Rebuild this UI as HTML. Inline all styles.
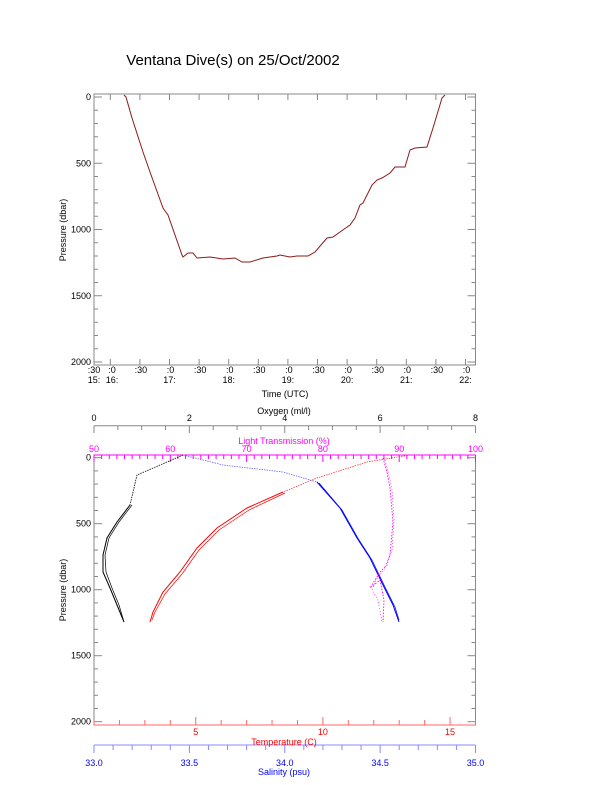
<!DOCTYPE html>
<html><head><meta charset="utf-8"><style>
body{margin:0;background:#fff;}
svg{display:block;font-family:"Liberation Sans",sans-serif;}
</style></head><body>
<svg id="s" width="612" height="785" viewBox="0 0 612 785" xmlns="http://www.w3.org/2000/svg">
<rect width="612" height="785" fill="#fff"/>
<text x="233" y="65" font-size="15" text-anchor="middle">Ventana Dive(s) on 25/Oct/2002</text>
<rect x="94" y="94" width="381.5" height="271" fill="none" stroke="#888" stroke-width="1"/>
<rect x="94" y="455" width="381.5" height="270" fill="none" stroke="#888" stroke-width="1"/>
<g id="g"></g>
<text x="66" y="230" font-size="9" text-anchor="middle" transform="rotate(-90 66 230)">Pressure (dbar)</text>
<text x="285" y="397" font-size="9" text-anchor="middle">Time (UTC)</text>
<text x="66" y="590" font-size="9" text-anchor="middle" transform="rotate(-90 66 590)">Pressure (dbar)</text>
<text x="284" y="414" font-size="9" text-anchor="middle">Oxygen (ml/l)</text>
<text x="284" y="444" font-size="9" text-anchor="middle" fill="#f0f">Light Transmission (%)</text>
<text x="284" y="745" font-size="9" text-anchor="middle" fill="#f00">Temperature (C)</text>
<text x="284" y="775" font-size="9" text-anchor="middle" fill="#00f">Salinity (psu)</text>
<polyline fill="none" stroke="#8b1a1a" stroke-width="1" points="124,95 126,97 132,118 143,152 150,172 163,208 168,215 182,255 183,257 188,253 193,253 197,258 210,257 223,259 235,258 242,262 250,262 263,258 277,256 280,255 290,257 297,256 308,256 315,252 327,238 333,237 340,232 350,225 355,218 360,205 363,203 372,185 377,180 382,178 390,173 395,167 405,167 410,150 415,148 427,147 433,128 442,98 445,95"/>
<polyline fill="none" stroke="#000" stroke-width="0.8" stroke-dasharray="1.5 1" points="183,455 160,465 137,475 130,505"/>
<polyline fill="none" stroke="#000" stroke-width="1" points="130,505 117,522 107,538 103,555 103,572 110,588 117,605 124,622"/>
<polyline fill="none" stroke="#000" stroke-width="0.7" points="132,505 119,522 109,538 105,555 106,572 112,588 119,605 124,622"/>
<polyline fill="none" stroke="#f33" stroke-width="0.8" stroke-dasharray="1.5 1" points="410,455 367,462 317,478 283,492"/>
<polyline fill="none" stroke="#f00" stroke-width="1" points="283,492 247,508 217,528 197,548 180,572 163,592 153,612 150,622"/>
<polyline fill="none" stroke="#f00" stroke-width="0.7" points="285,493 249,510 219,530 199,550 182,574 165,594 155,612 152,620"/>
<polyline fill="none" stroke="#66f" stroke-width="0.8" stroke-dasharray="1.5 1" points="183,455 223,465 283,472 317,482"/>
<polyline fill="none" stroke="#00f" stroke-width="1" points="317,482 340,508 357,538 370,558 383,585 393,605 399,622"/>
<polyline fill="none" stroke="#00f" stroke-width="0.7" points="319,483 342,510 359,540 372,560 385,587 395,607 399,620"/>
<polyline fill="none" stroke="#f0f" stroke-width="0.9" stroke-dasharray="1.5 1.5" points="383,458 387,472 390,488 393,522 390,555 387,565 380,572 370,588 380,580 384,600 383,622"/>
<polyline fill="none" stroke="#f0f" stroke-width="0.7" stroke-dasharray="1 2" points="385,460 389,475 392,490 394,520 392,550 384,570 376,580 372,590 378,600 382,622"/>
</svg>
<script>
var g=document.getElementById('g'),NS='http://www.w3.org/2000/svg';
function L(x1,y1,x2,y2,c){var e=document.createElementNS(NS,'line');e.setAttribute('x1',x1);e.setAttribute('y1',y1);e.setAttribute('x2',x2);e.setAttribute('y2',y2);e.setAttribute('stroke',c||'#888');e.setAttribute('stroke-width','1');g.appendChild(e);}
function T(x,y,s,a,c){var e=document.createElementNS(NS,'text');e.setAttribute('x',x);e.setAttribute('y',y);e.setAttribute('font-size','9');e.setAttribute('text-anchor',a||'middle');if(c)e.setAttribute('fill',c);e.textContent=s;g.appendChild(e);}
// top plot pressure axis
for(var p=0;p<=2000;p+=100){var y=97+p*0.1325,m=p%500==0;L(94,y,m?102:98,y);L(475.5,y,m?467.5:471.5,y);if(m)T(91,y+3,p,'end');}
// time axis
for(var k=-1;k<=12;k++){var x=110.3+k*29.6;if(x<94)x=94;L(x,365,x,359);L(x,94,x,100);}
var labs=[[94,':30','15:'],[110.3,':0','16:']];
T(94,373,':30');T(94,383,'15:');T(112,373,':0');T(112,383,'16:');
var hrs=['17:','18:','19:','20:','21:','22:'];
for(var k=1;k<=12;k++){var x=110.3+k*29.6;T(x+1,373,k%2?':30':':0');if(k%2==0)T(x,383,hrs[k/2-1]);}
// bottom plot pressure axis
for(var p=0;p<=2000;p+=100){var y=457.7+p*0.132,m=p%500==0;L(94,y,m?102:98,y);L(475.5,y,m?467.5:471.5,y);if(m)T(91,y+3,p,'end');}
// oxygen axis
L(94,425.7,475.5,425.7);
for(var i=0;i<=16;i++){var x=94+i*381.5/16;L(x,425.7,x,i%4==0?433:430);if(i%4==0)T(x,421,i/2);}
// light transmission axis
L(94,455,475.5,455,'#f0f');
for(var i=0;i<=50;i++){var x=94+i*381.5/50;L(x,455,x,i%10==0?462:459,'#f0f');if(i%10==0)T(x,452,50+i,'middle','#f0f');}
// temperature axis
L(94,725,475.5,725,'#f66');
for(var t=1;t<=16;t++){var x=94+(t-1)*381.5/15;L(x,725,x,t%5==0?717:720,'#f66');if(t%5==0)T(x,735,t,'middle','#f00');}
// salinity axis
L(94,745,475.5,745,'#88f');
for(var i=0;i<=20;i++){var x=94+i*381.5/20;L(x,745,x,i%5==0?753:750,'#88f');if(i%5==0)T(x,766,(33+i/10).toFixed(1),'middle','#00f');}
</script>
</body></html>
